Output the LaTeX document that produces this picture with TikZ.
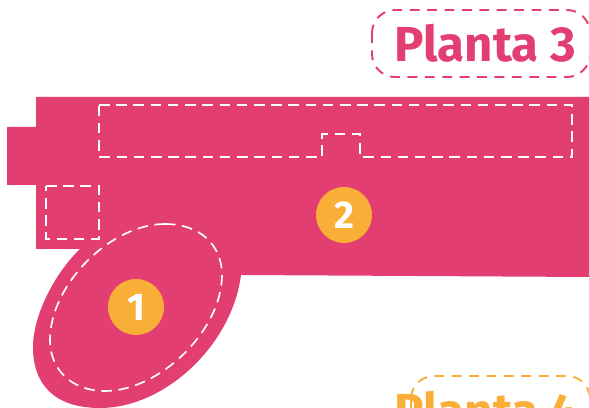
\documentclass[tikz,border=0pt]{standalone}
\usepackage{fontspec}
\setmainfont{Fira Sans}
\usepackage{tikz}
\usetikzlibrary{positioning}
\definecolor{plantapink}{HTML}{E33E71}
\definecolor{plantaorange}{HTML}{F9AE37}
\tikzset{
  stitch/.style={draw=white, line width=.95pt, dash pattern=on 6pt off 3.8pt},
  labelbox/.style={line width=1.1pt, dash pattern=on 5.6pt off 4.3pt, rounded corners=.46cm},
  plantalabel/.style={inner sep=0pt, outer sep=0pt, font=\fontsize{28}{28}\selectfont\bfseries},
  roomnumber/.style={circle, fill=plantaorange, text=white, minimum size=1.12cm, inner sep=0pt, font=\fontsize{22}{22}\selectfont\bfseries}
}

\begin{document}
\begin{tikzpicture}[x=.02cm, y=-.02cm]
\useasboundingbox (0, 0) rectangle (589, 408);
\clip (0, 0) rectangle (589, 408);
\fill[plantapink] (36, 97) -- (589, 97) -- (589, 277) -- (241, 275)
  .. controls (232, 345) and (165, 408) .. (100, 408)
  .. controls (55, 408) and (33, 385) .. (33, 347)
  .. controls (33, 315) and (55, 273) .. (80, 249)
  -- (36, 249) -- (36, 185) -- (7, 185) -- (7, 127) -- (36, 127) -- cycle;
\draw[stitch] (99, 105) -- (572, 105) -- (572, 157) -- (360, 157) -- (360, 134) -- (322, 134) -- (322, 157) -- (99, 157) -- cycle;
\draw[stitch] (46, 186) -- (99, 186) -- (99, 239) -- (46, 239) -- cycle;
\draw[stitch] (165, 224) .. controls (200, 224) and (222, 245) .. (222, 275)
  .. controls (222, 330) and (160, 391) .. (105, 391)
  .. controls (72, 391) and (50, 370) .. (50, 340)
  .. controls (50, 285) and (110, 224) .. (165, 224);
\node[roomnumber] (room1) at (136, 307) {1};
\node[roomnumber] (room2) at (344, 215) {2};
\draw[labelbox, draw=plantapink] (372, 10) rectangle (590, 77);
\node[plantalabel, text=plantapink] (planta3) at (485, 43) {Planta 3};
\draw[labelbox, draw=plantaorange] (411, 376) rectangle (590, 440);
\node[plantalabel, text=plantaorange] (planta4) at (486, 410) {Planta 4};
\end{tikzpicture}
\end{document}
